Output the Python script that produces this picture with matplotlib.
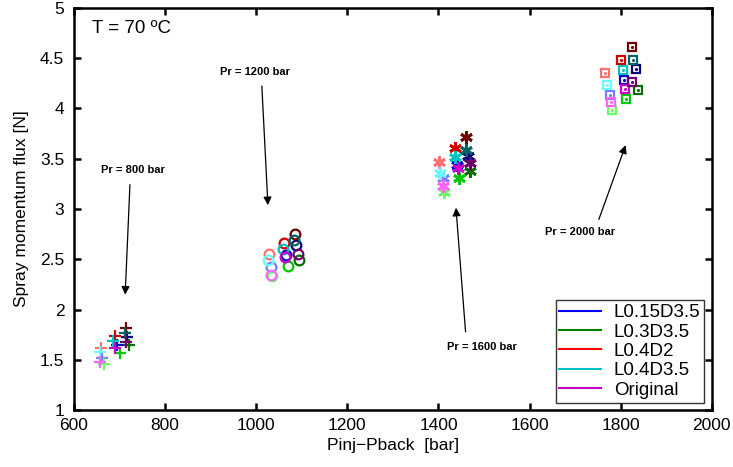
import matplotlib.pyplot as plt
from matplotlib.lines import Line2D

plt.rcParams['font.family'] = ['Liberation Sans', 'DejaVu Sans']

configs = ['L0.15D3.5', 'L0.3D3.5', 'L0.4D2', 'L0.4D3.5', 'Original']
legend_colors = ['#0000ff', '#008000', '#ff0000', '#00bfbf', '#bf00bf']

# shades: light (high Pback), normal, dark (low Pback) -- config order as above
shade_colors = [
    ['#7a7aff', '#66ff66', '#ff7070', '#66ffff', '#ff66ff'],
    ['#0000d0', '#00c800', '#d00000', '#00c0c0', '#c800c8'],
    ['#000078', '#006e00', '#700000', '#006464', '#6e006e'],
]

# Pr = 800 bar
x_800 = [[661, 665, 660, 656, 656],
         [694, 702, 691, 685, 691],
         [716, 720, 713, 711, 714]]
y_800 = [[1.520, 1.458, 1.614, 1.574, 1.481],
         [1.647, 1.564, 1.739, 1.687, 1.614],
         [1.729, 1.647, 1.813, 1.763, 1.680]]

# Pr = 1200 bar
x_1200 = [[1032, 1034, 1028, 1026, 1033],
          [1066, 1070, 1062, 1059, 1064],
          [1088, 1093, 1086, 1083, 1092]]
y_1200 = [[2.423, 2.330, 2.549, 2.490, 2.346],
          [2.539, 2.433, 2.665, 2.599, 2.522],
          [2.639, 2.490, 2.754, 2.689, 2.555]]

# Pr = 1600 bar
x_1600 = [[1409, 1412, 1402, 1403, 1410],
          [1441, 1446, 1436, 1436, 1443],
          [1465, 1469, 1460, 1460, 1469]]
y_1600 = [[3.305, 3.172, 3.465, 3.361, 3.229],
          [3.438, 3.305, 3.610, 3.514, 3.405],
          [3.527, 3.381, 3.713, 3.587, 3.455]]

# Pr = 2000 bar
x_2000 = [[1777, 1782, 1766, 1771, 1779],
          [1808, 1812, 1801, 1806, 1810],
          [1833, 1839, 1826, 1828, 1824]]
y_2000 = [[4.137, 3.988, 4.353, 4.231, 4.062],
          [4.287, 4.098, 4.486, 4.386, 4.197],
          [4.396, 4.187, 4.612, 4.486, 4.264]]

fig = plt.figure(figsize=(7.33, 4.67), dpi=100)
ax = fig.add_axes([0.101, 0.122, 0.870, 0.861])

asterisk = (6, 2, 0)
groups = [(x_800, y_800, '+', 8, 1.6), (x_1200, y_1200, 'o', 7, 1.6),
          (x_1600, y_1600, asterisk, 9, 2.0), (x_2000, y_2000, 's', 6, 1.6)]
for xs, ys, mk, ms, mw in groups:
    for s in range(3):
        for c in range(5):
            col = shade_colors[s][c]
            ax.plot(xs[s][c], ys[s][c], marker=mk, ms=ms, mfc='none',
                    mec=col, mew=mw, ls='none')
            if mk == 's':
                ax.plot(xs[s][c], ys[s][c], marker='.', ms=2.5, color=col,
                        ls='none')

arrow = dict(arrowstyle='-|>', color='k', lw=0.9, mutation_scale=12)
notes = [('Pr = 800 bar', (729, 3.39), (712, 2.12), (723, 3.27)),
         ('Pr = 1200 bar', (997, 4.36), (1026, 3.01), (1012, 4.25)),
         ('Pr = 1600 bar', (1495, 1.63), (1438, 3.04), (1460, 1.75)),
         ('Pr = 2000 bar', (1710, 2.77), (1813, 3.66), (1750, 2.87))]
for label, tpos, head, tail in notes:
    ax.text(tpos[0], tpos[1], label, fontsize=8, fontweight='bold',
            ha='center', va='center')
    ax.annotate('', xy=head, xytext=tail, arrowprops=arrow)

ax.text(640, 4.80, 'T = 70 ºC', fontsize=13.5, va='center')

ax.set_xlim(600, 2000)
ax.set_ylim(1, 5)
ax.set_xticks(range(600, 2001, 200))
ax.set_yticks([1, 1.5, 2, 2.5, 3, 3.5, 4, 4.5, 5])
ax.set_yticklabels(['1', '1.5', '2', '2.5', '3', '3.5', '4', '4.5', '5'])
ax.tick_params(direction='in', top=True, right=True, labelsize=12.5,
               width=1.8, length=5)
ax.tick_params(axis='x', pad=6)
ax.tick_params(axis='y', pad=7)
for sp in ax.spines.values():
    sp.set_linewidth(1.8)
ax.set_xlabel('Pinj\u2212Pback  [bar]', fontsize=12.5, labelpad=3)
ax.set_ylabel('Spray momentum flux [N]', fontsize=12.5, labelpad=8)

handles = [Line2D([], [], color=c, lw=1.5) for c in legend_colors]
leg = ax.legend(handles, configs, loc='lower right', fontsize=13.5,
                frameon=True, fancybox=False, edgecolor='k',
                handlelength=2.2, borderpad=0.2, labelspacing=0.12,
                handletextpad=0.7, borderaxespad=0.4)
leg.get_frame().set_linewidth(1.0)

fig.savefig('out.png', dpi=100)
